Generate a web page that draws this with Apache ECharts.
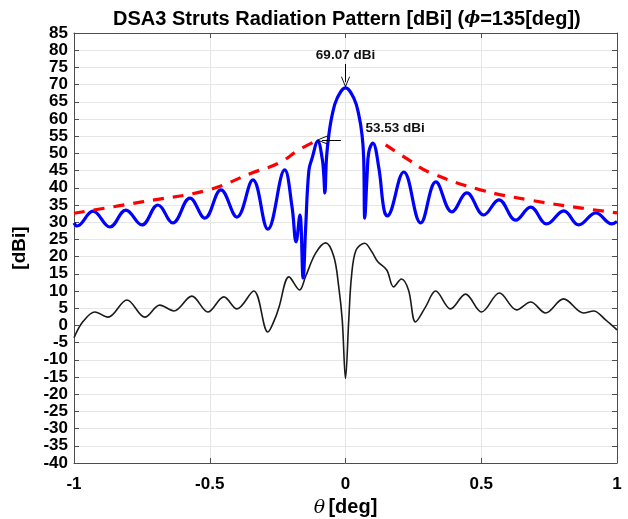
<!DOCTYPE html>
<html>
<head>
<meta charset="utf-8">
<script src="https://cdn.jsdelivr.net/npm/echarts@6/dist/echarts.min.js"></script>
<style>
html,body{margin:0;padding:0;background:#fff;}
#chart{width:628px;height:519px;}
</style>
</head>
<body>
<div id="chart"></div>
<script>
// ---- data ----
const blueTheta = [-1.0,-0.989,-0.930,-0.868,-0.809,-0.750,-0.691,-0.636,-0.573,-0.518,-0.459,-0.400,-0.341,-0.286,-0.224,-0.197,-0.182,-0.168,-0.156,-0.147,-0.135,-0.123,-0.102,-0.086,-0.080,-0.076,-0.070,-0.0615,-0.049,-0.031,0,0.031,0.049,0.061,0.067,0.071,0.0796,0.086,0.1005,0.1227,0.141,0.153,0.2147,0.277,0.333,0.392,0.447,0.509,0.565,0.627,0.682,0.741,0.804,0.859,0.922,0.981,1.0];
const blueGain  = [29.8,28.9,33.2,28.6,33.5,29.2,35.0,29.8,37.0,31.2,39.4,31.5,42.3,28.0,45.2,34.5,24.3,32.1,13.8,28.0,45.0,48.6,53.53,48.6,43.7,38.5,48.6,55.3,61.2,66.0,69.07,66.0,61.2,55.3,48.6,31.2,43.7,50.5,53.0,45.8,34.0,31.8,44.6,29.8,41.7,33.0,38.5,32.1,36.5,30.6,34.4,29.5,33.3,29.2,32.7,29.5,30.2];

const blackTheta = [-1.0,-0.967,-0.923,-0.875,-0.805,-0.739,-0.684,-0.632,-0.566,-0.507,-0.448,-0.400,-0.338,-0.286,-0.257,-0.245,-0.208,-0.169,-0.147,-0.110,-0.073,-0.043,-0.025,-0.012,0,0.012,0.022,0.039,0.071,0.097,0.119,0.152,0.177,0.206,0.232,0.258,0.295,0.332,0.387,0.442,0.501,0.567,0.630,0.682,0.737,0.803,0.877,0.914,0.958,1.0];
const blackGain  = [-3.6,1.1,3.9,2.4,7.4,2.4,5.9,4.2,8.5,3.9,8.3,4.8,10.0,-1.9,2.5,5.3,14.1,10.3,14.2,21.0,24.0,20.0,11.3,1.6,-15.4,1.6,14.2,21.9,23.9,21.4,18.5,16.1,11.2,13.5,10.3,1.0,5.4,10.0,4.8,9.1,3.9,9.4,4.5,6.8,3.6,7.7,3.6,4.2,1.6,-1.3];

const envLeftTheta  = [-1.0,-0.750,-0.503,-0.345,-0.245,-0.172,-0.120];
const envLeftGain   = [32.6,35.9,39.4,44.3,47.2,51.0,53.2];
const envRightTheta = [0.148,0.233,0.306,0.497,0.674,0.869,1.0];
const envRightGain  = [52.5,48.1,44.6,39.4,36.5,34.1,32.7];

const xTicks = [-1,-0.5,0,0.5,1];
const yMin = -40, yMax = 85, yStep = 5;

const peakLabel = '69.07 dBi';
const sideLabel = '53.53 dBi';
const peakArrow = [[0,76.0],[0,70.7]];
const sideArrow = [[-0.017,53.9],[-0.087,53.9]];
const peakLabelAt = [0,78.6];
const sideLabelAt = [0.072,57.4];

// ---- chart ----
const zip = (a,b) => a.map((v,i)=>[v,b[i]]);
const FONT = '"Liberation Sans", Arial, Helvetica, sans-serif';
const arrowPath = 'path://M0,10 L5,0 L10,10 L9,10 L5,2 L1,10 Z';

const chart = echarts.init(document.getElementById('chart'), null, {renderer:'canvas'});
const frame = '#4d4d4d';
chart.setOption({
  animation:false,
  title:{
    text:'{a|DSA3 Struts Radiation Pattern [dBi] (}{b|ϕ}{a|=135[deg])}',
    left:108, top:4,
    textStyle:{rich:{
      a:{fontFamily:FONT,fontWeight:'bold',fontSize:20,color:'#000'},
      b:{fontFamily:'"DejaVu Serif", serif',fontStyle:'italic',fontSize:17,color:'#000'}
    }}
  },
  grid:{left:74,right:11,top:33,bottom:56,containLabel:false,outerBoundsMode:'none'},
  xAxis:[{
    type:'value',min:-1,max:1,interval:0.5,position:'bottom',
    name:'{t|θ} {d|[deg]}',nameLocation:'middle',nameGap:31,
    nameTextStyle:{rich:{
      t:{fontFamily:'"DejaVu Serif", serif',fontStyle:'italic',fontSize:19,color:'#000'},
      d:{fontFamily:FONT,fontWeight:'bold',fontSize:20,color:'#000'}
    }},
    axisLine:{show:true,onZero:false,lineStyle:{color:frame,width:1}},
    axisTick:{show:true,inside:true,length:5,lineStyle:{color:frame}},
    axisLabel:{fontFamily:FONT,fontWeight:'bold',fontSize:17,color:'#000',margin:13,
      formatter:v=>xTicks.includes(v)?String(v):''},
    splitLine:{show:true,lineStyle:{color:'#e6e6e6',width:1}}
  },{
    type:'value',min:-1,max:1,interval:0.5,position:'top',
    axisLine:{show:true,onZero:false,lineStyle:{color:frame,width:1}},
    axisTick:{show:true,inside:true,length:5,lineStyle:{color:frame}},
    axisLabel:{show:false},splitLine:{show:false}
  }],
  yAxis:[{
    type:'value',min:yMin,max:yMax,interval:yStep,position:'left',
    name:'[dBi]',nameLocation:'middle',nameGap:45,
    nameTextStyle:{fontFamily:FONT,fontWeight:'bold',fontSize:19,color:'#000'},
    axisLine:{show:true,onZero:false,lineStyle:{color:frame,width:1}},
    axisTick:{show:true,inside:true,length:5,lineStyle:{color:frame}},
    axisLabel:{fontFamily:FONT,fontWeight:'bold',fontSize:17,color:'#000',margin:6,lineHeight:17},
    splitLine:{show:true,lineStyle:{color:'#e6e6e6',width:1}}
  },{
    type:'value',min:yMin,max:yMax,interval:yStep,position:'right',
    axisLine:{show:true,onZero:false,lineStyle:{color:frame,width:1}},
    axisTick:{show:true,inside:true,length:5,lineStyle:{color:frame}},
    axisLabel:{show:false},splitLine:{show:false}
  }],
  series:[
    {
      type:'line',name:'black',data:zip(blackTheta,blackGain),
      showSymbol:false,smooth:0.35,
      lineStyle:{color:'#1a1a1a',width:1.6},z:2
    },
    {
      type:'line',name:'blue',data:zip(blueTheta,blueGain),
      showSymbol:false,smooth:0.4,
      lineStyle:{color:'#0000ff',width:3.2},z:3,
      markLine:{
        silent:true,animation:false,
        symbol:['none',arrowPath],symbolSize:[9,11],
        lineStyle:{color:'#000',width:1,type:'solid'},
        label:{show:false},
        data:[
          [{coord:peakArrow[0]},{coord:peakArrow[1]}],
          [{coord:sideArrow[0]},{coord:sideArrow[1]}]
        ]
      },
      markPoint:{
        silent:true,animation:false,symbol:'circle',symbolSize:1,
        itemStyle:{color:'rgba(0,0,0,0)'},
        data:[
          {coord:peakLabelAt,label:{show:true,position:'inside',formatter:peakLabel,
            fontFamily:FONT,fontWeight:'bold',fontSize:13.5,color:'#111'}},
          {coord:sideLabelAt,label:{show:true,position:'right',distance:0,formatter:sideLabel,
            fontFamily:FONT,fontWeight:'bold',fontSize:13.5,color:'#111'}}
        ]
      }
    },
    {
      type:'line',name:'envL',data:zip(envLeftTheta,envLeftGain),
      showSymbol:false,smooth:0.4,
      lineStyle:{color:'#ff0000',width:3.2,type:[11,9]},z:4
    },
    {
      type:'line',name:'envR',data:zip(envRightTheta,envRightGain),
      showSymbol:false,smooth:0.4,
      lineStyle:{color:'#ff0000',width:3.2,type:[11,9]},z:4
    }
  ]
});
</script>
</body>
</html>
